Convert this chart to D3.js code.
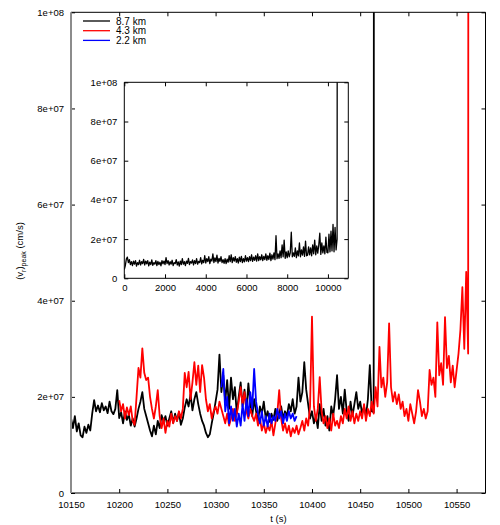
<!DOCTYPE html>
<html><head><meta charset="utf-8">
<script src="https://cdn.jsdelivr.net/npm/d3@7"></script>
<style>body{margin:0;background:#fff}text{font-family:"Liberation Sans",Arial,sans-serif;fill:#000}</style>
</head><body><svg id="c" width="500" height="525"></svg>
<script>
// values in units of 1e6 cm/s; 1000 marks the run-away (off-scale) endpoint
const seriesNames = ["8.7 km","4.3 km","2.2 km"];
const seriesColors = ["#000000","#ff0000","#0000ff"];
const blackStart = 10150, redStart = 10200, blueStart = 10306, mainStep = 2;
const blackV = [15.6,13.5,16.0,12.8,14.5,12.0,11.6,13.8,12.5,14.2,13.0,16.5,19.3,17.0,18.2,16.8,18.7,17.2,18.0,16.6,19.0,17.0,16.4,17.5,21.4,
15.6,16.8,14.5,17.0,15.2,16.3,14.0,15.5,13.8,15.5,17.5,19.0,21.0,17.5,16.0,14.5,13.0,11.8,14.0,12.2,15.0,13.5,16.2,14.8,16.0,
14.0,15.5,17.0,14.6,16.5,15.0,16.8,14.2,15.5,17.8,19.5,18.0,20.5,17.2,19.5,21.0,18.5,16.5,15.0,14.0,12.5,11.6,12.2,14.5,16.5,
19.0,21.5,28.8,21.0,24.5,19.0,23.5,17.5,24.0,19.5,22.0,16.5,20.0,23.0,18.0,21.5,17.0,22.8,18.5,16.0,19.5,17.0,15.0,18.0,16.5,
19.0,15.5,17.0,14.8,16.5,15.2,17.5,15.0,16.8,18.0,15.5,17.0,16.0,18.5,17.0,19.5,16.5,18.0,24.0,19.0,21.0,27.2,21.5,18.5,15.5,
17.0,14.5,16.0,13.5,18.5,15.0,17.5,14.0,16.0,13.0,18.0,16.0,19.5,24.5,17.5,20.0,16.5,21.5,17.0,15.0,19.0,16.0,18.5,21.0,17.5,
19.0,16.5,18.0,16.0,19.5,26.6,17.0,16.8,1000];
const redV = [19.3,17.0,18.5,15.5,17.8,16.2,18.0,15.0,14.2,20.0,26.0,24.0,30.1,25.0,23.5,24.0,20.0,17.5,15.5,18.0,21.4,16.0,13.5,15.5,12.5,
15.0,13.8,16.5,14.5,16.0,15.0,17.0,15.5,17.5,25.0,22.0,25.2,19.5,23.0,27.2,22.5,26.5,21.0,26.6,24.0,19.5,17.0,18.5,15.5,17.0,
18.0,16.5,19.0,17.5,16.0,14.5,16.5,14.0,15.5,17.5,15.0,16.5,19.0,22.0,18.5,21.0,17.0,15.5,17.5,16.0,15.0,16.5,14.0,15.5,13.0,
14.5,12.5,14.0,13.0,15.0,12.0,14.5,16.5,21.4,15.5,13.0,14.5,12.5,14.0,11.8,13.5,12.5,14.0,12.2,13.5,15.0,13.0,15.5,14.0,18.0,
36.7,18.0,15.0,17.5,24.1,17.0,14.5,16.0,13.5,15.5,13.0,16.5,14.0,15.0,13.5,16.0,14.5,17.5,15.5,18.0,15.0,17.0,14.5,16.5,15.0,
17.0,15.5,18.5,15.0,17.5,16.0,19.0,16.5,22.0,18.0,30.4,22.0,24.0,20.0,23.0,35.3,22.0,19.0,21.0,18.5,20.5,17.5,19.0,16.0,17.5,
15.0,18.5,16.5,14.5,17.0,21.4,19.0,16.0,17.5,15.5,17.0,25.6,22.5,24.0,20.0,35.5,24.5,27.0,22.5,36.6,26.0,28.5,23.0,26.5,22.0,
25.5,29.0,34.0,42.8,30.0,46.0,29.0,1000];
const blueV = [22.0,25.8,17.0,20.0,14.5,18.0,15.0,17.5,13.8,16.5,14.0,18.5,15.0,19.5,16.0,21.0,17.5,25.8,19.0,16.5,
14.5,17.0,14.0,16.0,13.8,16.5,14.5,16.0,15.0,17.5,15.5,17.0,14.5,16.5,15.0,17.0,15.5,16.5,15.0,16.0];
const insetStep = 50;
const insetV = [4.5,6.5,9.8,10.8,8.0,9.5,7.0,8.5,6.5,8.8,7.2,9.0,6.2,8.0,7.0,9.2,6.8,8.5,7.5,9.6,
6.8,8.8,7.4,9.0,6.4,8.2,7.0,9.4,6.6,8.0,7.2,9.0,6.5,8.6,7.0,8.2,6.3,9.0,7.4,8.8,
7.0,10.5,7.5,9.0,6.8,8.5,7.2,9.2,6.5,8.0,7.5,9.5,6.8,8.4,6.2,8.8,7.0,10.0,7.2,8.5,
6.5,8.8,7.6,10.2,7.0,8.5,7.8,9.4,6.8,9.0,7.5,10.0,7.2,8.6,8.0,10.5,7.4,9.2,8.0,11.5,
7.8,10.0,8.5,11.0,7.5,9.8,8.8,12.5,8.0,10.4,8.5,11.8,7.8,10.2,8.6,11.0,8.0,9.5,7.6,10.0,
7.5,9.8,8.2,11.5,8.5,12.0,8.0,10.5,8.8,11.0,8.2,10.0,7.8,10.8,8.5,11.2,8.0,10.0,8.4,11.5,
8.8,10.5,8.5,11.0,9.0,12.0,8.6,10.8,9.2,11.5,8.8,12.5,9.0,11.0,9.4,12.0,9.0,11.2,9.5,12.5,
9.2,11.5,9.6,12.8,9.0,12.0,9.8,13.0,9.5,21.7,10.0,12.5,10.2,14.0,10.5,17.0,11.0,19.5,10.2,13.5,
10.5,14.0,11.0,13.0,23.5,11.0,13.0,11.2,15.5,10.5,14.0,11.5,18.0,11.0,14.5,11.8,16.0,11.2,19.0,11.5,
11.8,16.0,12.0,15.5,11.5,17.0,12.5,19.5,12.0,16.5,12.8,17.0,23.0,12.2,18.0,13.0,16.5,12.5,21.0,13.2,
13.0,22.5,13.5,24.0,14.0,27.5,13.5,26.0,14.5,20.0,1000];
const unit = 1e6;
const mainXTicks = [10150,10200,10250,10300,10350,10400,10450,10500,10550];
const yTickVals = [0,2e7,4e7,6e7,8e7,1e8];
const yTickLabels = ["0","2e+07","4e+07","6e+07","8e+07","1e+08"];
const insetXTicks = [0,2000,4000,6000,8000,10000];

const svg = d3.select("#c");
const FS = 9.5;
const toPts = (arr, start, step) => arr.map((v,i)=>[start+i*step, v*unit]);

function panel(g, x, y, xTicks, leftColor, id, series, xPad) {
  const [x0,x1] = x.range(), [y0,y1] = y.range();
  g.append("rect").attr("x",x0).attr("y",y1).attr("width",x1-x0).attr("height",y0-y1).attr("fill","#fff");
  g.append("clipPath").attr("id",id).append("rect").attr("x",x0).attr("y",y1).attr("width",x1-x0).attr("height",y0-y1);
  const line = d3.line().x(d=>x(d[0])).y(d=>y(d[1]));
  const dg = g.append("g").attr("clip-path",`url(#${id})`);
  series.forEach(s=>{
    dg.append("path").attr("d",line(s.pts)).attr("fill","none").attr("stroke",s.color)
      .attr("stroke-width",s.w).attr("stroke-linejoin","round");
  });
  const bottom = g.append("g").attr("transform",`translate(0,${y0})`)
    .call(d3.axisBottom(x).tickValues(xTicks).tickSizeInner(-4).tickSizeOuter(0).tickPadding(xPad).tickFormat(d3.format("d")));
  const top = g.append("g").attr("transform",`translate(0,${y1})`)
    .call(d3.axisTop(x).tickValues(xTicks).tickSizeInner(-4).tickSizeOuter(0).tickFormat(""));
  const left = g.append("g").attr("transform",`translate(${x0},0)`)
    .call(d3.axisLeft(y).tickValues(yTickVals).tickSizeInner(-4).tickSizeOuter(0).tickPadding(7)
      .tickFormat((d,i)=>yTickLabels[i]));
  const right = g.append("g").attr("transform",`translate(${x1},0)`)
    .call(d3.axisRight(y).tickValues(yTickVals).tickSizeInner(-4).tickSizeOuter(0).tickFormat(""));
  [bottom,top,left,right].forEach(a=>{
    a.select(".domain").remove();
    a.selectAll("text").style("font-size",FS+"px").attr("fill","#000");
    a.selectAll("line").attr("stroke","#000");
  });
  bottom.selectAll("text").attr("dy","0.71em");
  g.append("line").attr("x1",x0).attr("x2",x1).attr("y1",y0).attr("y2",y0).attr("stroke","#000");
  g.append("line").attr("x1",x0).attr("x2",x1).attr("y1",y1).attr("y2",y1).attr("stroke","#000");
  g.append("line").attr("x1",x1).attr("x2",x1).attr("y1",y1).attr("y2",y0).attr("stroke","#000");
  g.append("line").attr("x1",x0).attr("x2",x0).attr("y1",y1).attr("y2",y0).attr("stroke",leftColor)
    .attr("stroke-width", leftColor==="#000"?1:2);
}

// main panel
const xM = d3.scaleLinear().domain([10150,10580]).range([71,485.5]);
const yM = d3.scaleLinear().domain([0,1e8]).range([493,12.3]);
const gM = svg.append("g");
panel(gM, xM, yM, mainXTicks, "#8c8c8c", "clipMain", [
  {pts: toPts(blackV, blackStart, mainStep), color: seriesColors[0], w: 1.8},
  {pts: toPts(redV, redStart, mainStep), color: seriesColors[1], w: 1.8},
  {pts: toPts(blueV, blueStart, mainStep), color: seriesColors[2], w: 1.8}
], 8);

// axis titles
svg.append("text").attr("x",278.5).attr("y",522).attr("text-anchor","middle").style("font-size",FS+"px").text("t (s)");
const yl = svg.append("text").attr("transform","translate(23,251) rotate(-90)").attr("text-anchor","middle").style("font-size",FS+"px");
yl.append("tspan").text("(v");
yl.append("tspan").attr("dy",2.5).style("font-size","7px").text("r");
yl.append("tspan").attr("dy",-2.5).text(")");
yl.append("tspan").attr("dy",2.5).style("font-size","7px").text("peak");
yl.append("tspan").attr("dy",-2.5).text(" (cm/s)");

// legend
const lg = svg.append("g");
seriesNames.forEach((n,i)=>{
  const yy = 21 + i*9.7;
  lg.append("line").attr("x1",83).attr("x2",110).attr("y1",yy).attr("y2",yy).attr("stroke",seriesColors[i]).attr("stroke-width",1.3);
  lg.append("text").attr("x",116).attr("y",yy).attr("dy","0.35em").style("font-size","10px").text(n);
});

// inset panel
const xI = d3.scaleLinear().domain([0,11000]).range([124.3,348.3]);
const yI = d3.scaleLinear().domain([0,1e8]).range([278.3,82.3]);
const gI = svg.append("g");
panel(gI, xI, yI, insetXTicks, "#000", "clipInset", [
  {pts: toPts(insetV, 0, insetStep), color: seriesColors[0], w: 1.3}
], 6);
</script></body></html>
